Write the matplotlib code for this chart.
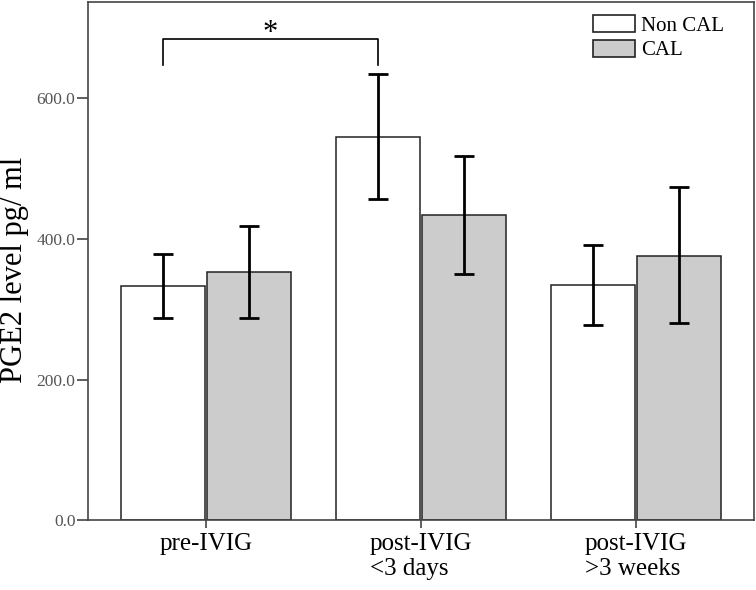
import matplotlib
matplotlib.use('Agg')
import matplotlib.pyplot as plt
from matplotlib.patches import Patch
import numpy as np

# values (pg/ml)
groups = ['pre-IVIG', 'post-IVIG\n<3 days', 'post-IVIG\n>3 weeks']
non_cal_mean = [333, 545, 334]
non_cal_low = [287, 456, 277]
non_cal_high = [378, 634, 391]
cal_mean = [353, 433, 376]
cal_low = [288, 350, 280]
cal_high = [418, 517, 473]
series_names = ['Non CAL', 'CAL']
y_ticks = [0, 200, 400, 600]

SERIF = ['Liberation Serif', 'DejaVu Serif']
GREY_FILL = '#cccccc'
EDGE = '#222222'
SPINE = '#444444'

fig = plt.figure(figsize=(7.56, 5.9), dpi=100)
ax = fig.add_axes([0.1164, 0.118, 0.8804, 0.8786])

x = np.arange(len(groups))
w = 0.395
off = 0.2

for xs, mean, lo, hi, fc in [
    (x - off, non_cal_mean, non_cal_low, non_cal_high, 'white'),
    (x + off, cal_mean, cal_low, cal_high, GREY_FILL),
]:
    mean = np.array(mean)
    ax.bar(xs, mean, width=w, color=fc, edgecolor=EDGE, linewidth=1.1, zorder=2)
    yerr = [mean - np.array(lo), np.array(hi) - mean]
    ax.errorbar(xs, mean, yerr=yerr, fmt='none', ecolor='black',
                elinewidth=2.0, capsize=7.5, capthick=2.0, zorder=3)

# significance bracket between the two Non CAL bars
bx0, bx1 = x[0] - off, x[1] - off
ax.plot([bx0, bx0, bx1, bx1], [646, 684, 684, 646], color='black', lw=1.2, zorder=3)
ax.text((bx0 + bx1) / 2, 691, '*', ha='center', va='center', fontsize=22,
        family=SERIF, color='black')

ax.set_xlim(-0.549, 2.547)
ax.set_ylim(0, 736)
ax.set_yticks(y_ticks)
ax.set_yticklabels([f'{v:.1f}' for v in y_ticks], family=SERIF, fontsize=12.5, color='#555555')
ax.set_xticks(x)
ax.set_xticklabels(groups, family=SERIF, fontsize=18, multialignment='left')
ax.tick_params(axis='y', direction='out', length=8, width=1.2, color=SPINE, pad=1)
ax.tick_params(axis='x', direction='out', length=6, width=1.2, color=SPINE, pad=3)
for s in ax.spines.values():
    s.set_color(SPINE)
    s.set_linewidth(1.2)

ax.set_ylabel('PGE2 level pg/ ml', family=SERIF, fontsize=22)
ax.yaxis.set_label_coords(-0.088, 0.483)

handles = [Patch(facecolor='white', edgecolor=EDGE, linewidth=1.2),
           Patch(facecolor=GREY_FILL, edgecolor=EDGE, linewidth=1.2)]
ax.legend(handles, series_names, loc='upper left', bbox_to_anchor=(0.759, 0.975),
          frameon=False, prop={'family': SERIF, 'size': 15}, borderpad=0,
          handlelength=2.0, handleheight=0.87, handletextpad=0.3, labelspacing=0.2,
          borderaxespad=0)

fig.savefig('out.png', dpi=100)
